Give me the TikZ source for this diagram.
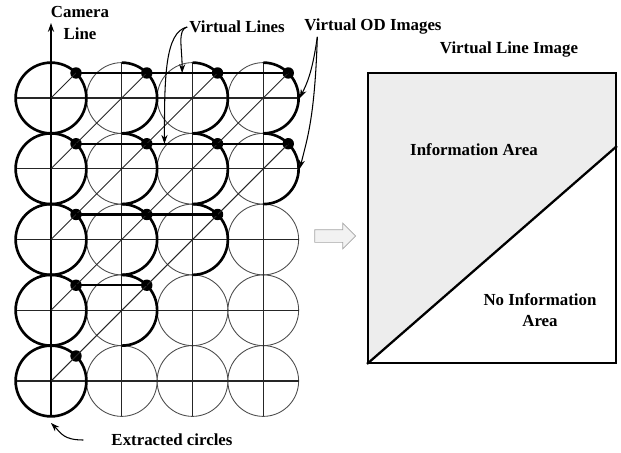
\documentclass[tikz,border=0pt]{standalone}
\usepackage{fontspec}
\setmainfont{Liberation Serif}
\usetikzlibrary{arrows.meta, positioning, calc, shapes.arrows}

\begin{document}
\begin{tikzpicture}[>={Stealth[length=5pt,width=3.5pt]},font=\fontsize{9.6}{12}\selectfont\bfseries,odimage/.style={draw=black!70, line width=0.5pt},extracted/.style={draw, line width=1.5pt},gridline/.style={draw=black!85, line width=0.6pt},virtual/.style={draw, line width=1.4pt},dotmark/.style={circle, fill, inner sep=0pt, minimum size=6.5pt},label/.style={align=center, inner sep=1pt},callout/.style={->, line width=0.6pt}]
\useasboundingbox (0,0) rectangle (12.42,-9.04);
% grid of virtual OD images
\begin{scope}[shift={(1.02,-1.96)}]
\foreach \i in {0,...,3} \foreach \j in {0,...,4} {\coordinate (c-\i-\j) at (1.415*\i,-1.415*\j); \draw[odimage] (c-\i-\j) circle (0.7075);}
\foreach \j in {0,...,4} \draw[gridline] ([xshift=-0.7075cm]c-0-\j) -- ([xshift=0.7075cm]c-3-\j);
\foreach \i in {1,...,3} \draw[gridline] ([yshift=0.7075cm]c-\i-0) -- ([yshift=-0.7075cm]c-\i-4);
\coordinate (cam) at (0,1.5);
\draw[->, line width=1.4pt] ([yshift=-0.7075cm]c-0-4) -- (cam);
\foreach \j in {0,...,4} \draw[extracted] (c-0-\j) circle (0.7075);
\foreach \i/\j in {1/0,2/0,3/0,1/1,2/1,3/1,1/2,2/2,1/3} \draw[extracted] ([yshift=0.7075cm]c-\i-\j) arc (90:-90:0.7075);
\foreach \i/\j in {0/0,1/0,2/0,3/0,0/1,1/1,2/1,3/1,0/2,1/2,2/2,0/3,1/3,0/4} \node[dotmark] (dot-\i-\j) at ([shift={(45:0.7075)}]c-\i-\j) {};
\foreach \j/\k/\l in {0/0/0,1/1/0,2/2/0,3/3/0,4/3/1} \draw[gridline] (c-0-\j) -- (dot-\k-\l.center);
\foreach \j/\k in {0/3,1/3,2/2,3/1} \draw[virtual] (dot-0-\j.center) -- (dot-\k-\j.center);
\end{scope}
% labels on the left
\node[label] (camera) at (1.60,-0.46) {Camera\\Line};
\node[label] (vlines) at (4.74,-0.54) {Virtual Lines};
\node[label] (vod) at (7.46,-0.54) {Virtual OD Images};
\node[label] (extr) at (3.44,-8.8) {Extracted circles};
\draw[callout] (vlines.west) .. controls +(-0.2,-0.05) and +(0,0.5) .. ($(dot-1-0)!0.5!(dot-2-0)$);
\draw[callout] (vlines.west) .. controls +(-0.45,-0.1) and +(0,1.3) .. ($(dot-1-1)!0.25!(dot-2-1)$);
\draw[callout] ([xshift=0.3cm]vod.south west) .. controls +(-0.1,-0.7) and +(0.15,0.3) .. ([xshift=0.73cm]c-3-0);
\draw[callout] ([xshift=0.3cm]vod.south west) .. controls +(-0.05,-1.6) and +(0.15,0.6) .. ([xshift=0.73cm]c-3-1);
\draw[callout] ([xshift=-0.52cm]extr.west) .. controls +(-0.4,0) and +(0.2,-0.2) .. ([yshift=-0.84cm]c-0-4);
% virtual line image
\node[single arrow, draw=black!35, fill=black!5, minimum height=0.82cm, inner sep=0.12cm, single arrow head extend=0.13cm] (flow) at (6.64,-4.72) {};
\node[draw, line width=1.1pt, minimum width=4.96cm, minimum height=5.8cm] (vlimg) at (9.84,-4.36) {};
\coordinate (cut) at ([yshift=-1.48cm]vlimg.north east);
\fill[black!7] (vlimg.north west) -- (vlimg.north east) -- (cut) -- (vlimg.south west) -- cycle;
\draw[line width=1.3pt] (vlimg.south west) -- (cut);
\node[draw, line width=1.1pt, minimum width=4.96cm, minimum height=5.8cm] at (vlimg) {};
\node[label] (vli) at (10.18,-1.0) {Virtual Line Image};
\node[label] (info) at (9.48,-3.0) {Information Area};
\node[label] (noinfo) at (10.8,-6.2) {No Information\\Area};
\end{tikzpicture}
\end{document}
